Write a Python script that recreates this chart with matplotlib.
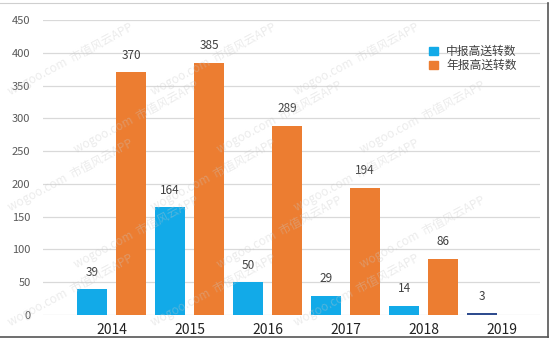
import numpy as np
import matplotlib.pyplot as plt
from matplotlib.lines import Line2D
from matplotlib.patches import Patch

plt.rcParams['font.family'] = ['Noto Sans CJK SC', 'DejaVu Sans']

years = ['2014', '2015', '2016', '2017', '2018', '2019']
interim = [39, 164, 50, 29, 14, 3]        # 中报高送转数
annual = [370, 385, 289, 194, 86]         # 年报高送转数 (2019 not yet out)
series_names = ['中报高送转数', '年报高送转数']

BLUE = '#12aae8'
NAVY = '#2f4c8e'
ORANGE = '#ec7d31'

fig = plt.figure(figsize=(5.5, 3.39), dpi=100)
ax = fig.add_axes([43 / 550, 24 / 339, 497 / 550, 295 / 339])

x = np.arange(len(years))
w = 0.385
off = 0.25

blue_colors = [BLUE] * (len(interim) - 1) + [NAVY]
ax.bar(x - off, interim, width=w, color=blue_colors, zorder=3)
ax.bar(x[:len(annual)] + off, annual, width=w, color=ORANGE, zorder=3)

for xi, v in zip(x - off, interim):
    ax.text(xi, v + 16, str(v), ha='center', va='bottom', fontsize=8.5, color='#404040')
for xi, v in zip(x[:len(annual)] + off, annual):
    ax.text(xi, v + 16, str(v), ha='center', va='bottom', fontsize=8.5, color='#404040')

ax.set_xlim(-0.88, 5.49)
ax.set_ylim(0, 450)
ax.set_yticks(range(0, 451, 50))
ax.set_xticks(x)
ax.set_xticklabels(years, fontsize=10, color='#222222')
ax.tick_params(axis='x', length=0, pad=6)
ax.tick_params(axis='y', length=0, pad=9, labelsize=8, labelcolor='#595959')
ax.grid(axis='y', color='#d9d9d9', linewidth=0.9, zorder=0)
for s in ax.spines.values():
    s.set_visible(False)

handles = [Patch(color=BLUE), Patch(color=ORANGE)]
ax.legend(handles, series_names, loc='upper left', bbox_to_anchor=(0.765, 0.935),
          frameon=False, borderpad=0, fontsize=8.5, handlelength=0.75,
          handleheight=0.75, handletextpad=0.7, labelspacing=0.1,
          labelcolor='#404040')

# faint diagonal watermark, kept inside the canvas
for row, yy in enumerate(np.arange(0.03, 0.75, 0.17)):
    for xx in np.arange(0.01 + (row % 2) * 0.12, 0.78, 0.26):
        fig.text(xx, yy, 'wogoo.com  市值风云APP', rotation=28, fontsize=8.5,
                 color='#c8c8c8', alpha=0.35, ha='left', va='bottom', zorder=0)

# outer frame of the picture
fig.add_artist(Line2D([0, 548 / 550], [1 - 3 / 339] * 2, color='#cfcfcf', lw=0.8))
fig.add_artist(Line2D([548 / 550] * 2, [2 / 339, 1 - 3 / 339], color='#555555', lw=1.2))
fig.add_artist(Line2D([0, 548 / 550], [2 / 339] * 2, color='#555555', lw=1.2))

fig.savefig('out.png', dpi=100)
